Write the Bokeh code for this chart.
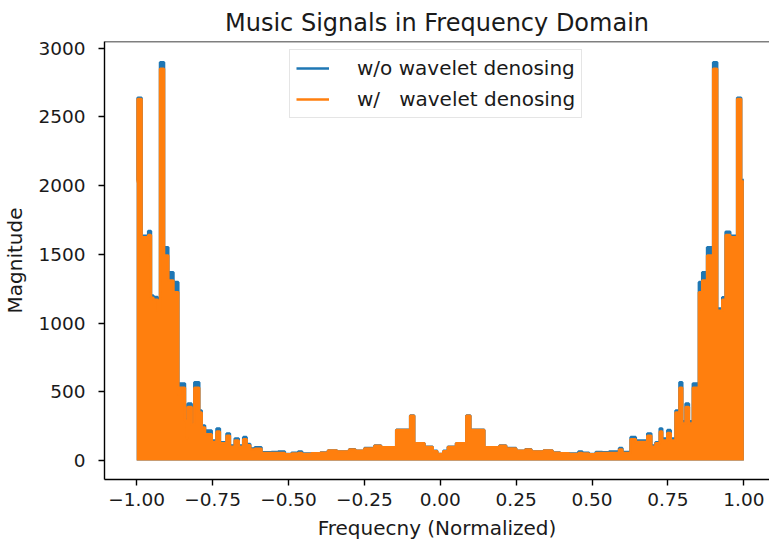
from bokeh.plotting import figure
from bokeh.models import FixedTicker, Span, Legend, LegendItem, Range1d
from bokeh.embed import file_html
from bokeh.resources import INLINE

# Normalized frequency (start of each step) and magnitudes
freq = [-1.000, -0.997, -0.984, -0.962, -0.953, -0.945, -0.931, -0.923, -0.910, -0.896,
        -0.879, -0.863, -0.858, -0.841, -0.836, -0.832, -0.819, -0.810, -0.794, -0.786,
        -0.775, -0.753, -0.737, -0.726, -0.704, -0.693, -0.677, -0.664, -0.649, -0.638,
        -0.626, -0.611, -0.589, -0.556, -0.534, -0.512, -0.490, -0.468, -0.455, -0.425,
        -0.395, -0.370, -0.340, -0.300, -0.280, -0.250, -0.217, -0.195, -0.145, -0.099,
        -0.086, -0.052, -0.025, -0.010, 0.010, 0.025, 0.052, 0.086, 0.099, 0.145,
        0.195, 0.217, 0.250, 0.280, 0.300, 0.340, 0.370, 0.395, 0.425, 0.455,
        0.468, 0.490, 0.512, 0.534, 0.556, 0.589, 0.600, 0.627, 0.644, 0.682,
        0.695, 0.709, 0.723, 0.731, 0.748, 0.759, 0.775, 0.788, 0.797, 0.808,
        0.819, 0.832, 0.852, 0.863, 0.879, 0.899, 0.912, 0.929, 0.940, 0.955,
        0.978, 0.991, 1.000]

mag_raw = [2040, 2640, 1635, 1670, 1200, 1190, 1105, 2898, 1552, 1370,
           1298, 487, 560, 300, 170, 414, 270, 570, 364, 255,
           218, 145, 233, 133, 196, 109, 160, 109, 170, 120,
           87, 97, 60, 62, 65, 48, 56, 65, 50, 53,
           58, 73, 66, 82, 70, 90, 109, 97, 223, 327,
           126, 100, 70, 48, 70, 100, 126, 327, 223, 97,
           109, 90, 70, 82, 66, 73, 58, 53, 50, 65,
           56, 48, 62, 60, 65, 90, 62, 170, 145, 196,
           109, 133, 233, 160, 221, 160, 364, 570, 286, 414,
           286, 560, 1298, 1370, 1552, 2898, 1106, 1188, 1665, 1635,
           2640, 2040, 2040]

mag_denoised = [2030, 2630, 1625, 1640, 1185, 1170, 1090, 2850, 1492, 1310,
                1225, 480, 530, 290, 165, 390, 260, 530, 350, 240,
                190, 135, 210, 125, 180, 100, 145, 100, 155, 110,
                80, 85, 55, 55, 55, 45, 50, 55, 48, 52,
                56, 72, 66, 80, 70, 88, 108, 96, 222, 326,
                125, 98, 68, 47, 68, 98, 125, 326, 222, 96,
                108, 88, 70, 80, 66, 72, 56, 52, 48, 55,
                50, 45, 55, 55, 55, 80, 55, 155, 135, 180,
                100, 125, 210, 145, 200, 145, 350, 530, 270, 390,
                270, 530, 1225, 1310, 1492, 2850, 1090, 1170, 1640, 1625,
                2630, 2030, 2030]

x_ticks = [-1.0, -0.75, -0.5, -0.25, 0.0, 0.25, 0.5, 0.75, 1.0]
x_tick_labels = ["\u22121.00", "\u22120.75", "\u22120.50", "\u22120.25", "0.00",
                 "0.25", "0.50", "0.75", "1.00"]
y_ticks = [0, 500, 1000, 1500, 2000, 2500, 3000]

series_labels = ["w/o wavelet denosing", "w/   wavelet denosing"]
BLUE = "#1f77b4"
ORANGE = "#ff7f0e"
FONT = "DejaVu Sans"
TXT = "#1a1a1a"

x_lo, x_hi = -1.106, 1.0845
y_lo, y_hi = -138, 3049

p = figure(width=769, height=544, output_backend="svg", toolbar_location=None,
           x_range=Range1d(x_lo, x_hi), y_range=Range1d(y_lo, y_hi),
           min_border_left=103, min_border_right=0, min_border_top=41,
           min_border_bottom=65, background_fill_color="white",
           border_fill_color="white")

p.varea_step(x=freq, y1=0, y2=mag_raw, step_mode="after", fill_color=BLUE)
r_blue = p.step(x=freq, y=mag_raw, mode="after", line_color=BLUE, line_width=2.6)
p.varea_step(x=freq, y1=0, y2=mag_denoised, step_mode="after", fill_color=ORANGE)
r_orange = p.step(x=freq, y=mag_denoised, mode="after", line_color=ORANGE, line_width=2.6)

legend = Legend(items=[LegendItem(label=series_labels[0], renderers=[r_blue]),
                       LegendItem(label=series_labels[1], renderers=[r_orange])],
                location=(185, 361))
legend.label_text_font = FONT
legend.label_text_font_size = "20px"
legend.label_text_color = TXT
legend.glyph_width = 33
legend.glyph_height = 24
legend.label_height = 24
legend.label_standoff = 28
legend.spacing = 7
legend.padding = 6
legend.margin = 0
legend.border_line_color = "#cccccc"
legend.border_line_width = 1
legend.background_fill_alpha = 0.8
p.add_layout(legend)

p.grid.visible = False
p.outline_line_color = None
p.add_layout(Span(location=y_hi, dimension="width", line_color="black", line_width=1.4))

p.title.text = "Music Signals in Frequency Domain"
p.title.align = "center"
p.title.text_font = FONT
p.title.text_font_size = "24px"
p.title.text_font_style = "normal"
p.title.text_color = TXT

for ax in (p.xaxis[0], p.yaxis[0]):
    ax.axis_line_color = "black"
    ax.axis_line_width = 1.4
    ax.major_tick_line_color = "black"
    ax.major_tick_line_width = 1.4
    ax.major_tick_in = 0
    ax.major_tick_out = 6
    ax.minor_tick_line_color = None
    ax.major_label_text_font = FONT
    ax.major_label_text_font_size = "18.5px"
    ax.major_label_text_color = TXT
    ax.axis_label_text_font = FONT
    ax.axis_label_text_font_size = "20px"
    ax.axis_label_text_font_style = "normal"
    ax.axis_label_text_color = TXT

p.xaxis.ticker = FixedTicker(ticks=x_ticks)
p.xaxis.major_label_overrides = {t: s for t, s in zip(x_ticks, x_tick_labels)}
p.xaxis.axis_label = "Frequecny (Normalized)"
p.xaxis.major_label_standoff = 7
p.xaxis.axis_label_standoff = 7

p.yaxis.ticker = FixedTicker(ticks=y_ticks)
p.yaxis.axis_label = "Magnitude"
p.yaxis.major_label_standoff = 13
p.yaxis.axis_label_standoff = 8

open("out.html", "w").write(file_html(p, INLINE))
